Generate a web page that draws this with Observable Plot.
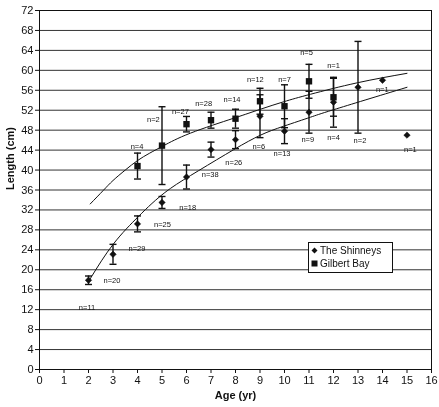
<!DOCTYPE html>
<html>
<head>
<meta charset="utf-8">
<script src="https://cdn.jsdelivr.net/npm/d3@7"></script>
<script src="https://cdn.jsdelivr.net/npm/@observablehq/plot@0.6"></script>
<style>
  html, body { margin: 0; padding: 0; background: #fff; }
  #wrap { position: relative; width: 439px; height: 407px; font-family: "Liberation Sans", Arial, sans-serif; }
  #chart svg { will-change: transform; }
  #legend { position: absolute; left: 308px; top: 242px; width: 83px; height: 28px; border: 1px solid #111; background: #fff; font-size: 10px; color: #111; line-height: 13px; padding-top: 1px; box-sizing: content-box; will-change: transform; }
  #legend div { display: flex; align-items: center; padding-left: 2px; white-space: nowrap; }
  #legend svg { margin-right: 2px; }
</style>
</head>
<body>
<div id="wrap">
  <div id="chart"></div>
  <div id="legend">
    <div><svg width="7" height="7" viewBox="-3.5 -3.5 7 7"><path d="M0,-3L3,0L0,3L-3,0Z" fill="#111"/></svg>The Shinneys</div>
    <div><svg width="7" height="7" viewBox="-3.5 -3.5 7 7"><rect x="-3" y="-3" width="6" height="6" fill="#111"/></svg>Gilbert Bay</div>
  </div>
</div>
<script>
// ---- data ----
const xTicks = [0,1,2,3,4,5,6,7,8,9,10,11,12,13,14,15,16];
const yTicks = [0,4,8,12,16,20,24,28,32,36,40,44,48,52,56,60,64,68,72];

const shinAge  = [2,3,4,5,6,7,8,9,10,11,12,13,14,15];
const shinLen  = [17.9,23.1,29.2,33.5,38.6,44.1,46.1,50.8,47.8,51.6,53.6,56.6,58.0,47.0];
const shinErr  = [0.85,2.0,1.6,1.2,2.4,1.5,1.8,4.3,2.5,4.2,5.0,9.2,null,null];

const gilbAge  = [4,5,6,7,8,9,10,11,12];
const gilbLen  = [40.8,44.9,49.2,50.0,50.3,53.8,52.8,57.8,54.6];
const gilbErr  = [2.6,7.8,1.55,1.6,1.9,2.6,4.3,3.4,3.8];

// fitted growth curves
const gilbCurveAge = [2.07,2.6,3.0,3.5,4.0,4.5,5.07,6.16,7.93,9.02,9.97,11.06,12.97,15.0];
const gilbCurveLen = [33.2,35.9,37.9,40.0,41.9,43.4,44.9,47.4,50.4,52.2,53.7,55.2,57.5,59.4];
const shinCurveAge = [2.07,3.02,4.0,4.59,5.34,6.5,7.93,9.02,9.97,11.06,12.0,15.0];
const shinCurveLen = [18.2,25.2,30.5,33.3,36.3,39.9,44.1,47.0,48.8,50.6,52.1,56.6];

// sample-size labels and where they sit (age, length)
const nText = ["n=4","n=2","n=27","n=28","n=14","n=12","n=7","n=5","n=1",
               "n=11","n=20","n=29","n=25","n=18","n=38","n=26","n=6","n=13","n=9","n=4","n=2","n=1","n=1"];
const nAge  = [3.98,4.65,5.75,6.7,7.86,8.81,10.0,10.9,12.0,
               1.94,2.96,3.98,5.02,6.05,6.97,7.93,8.95,9.9,10.95,12.0,13.08,13.99,15.14];
const nLen  = [44.8,50.2,51.8,53.4,54.2,58.2,58.2,63.5,61.0,
               12.4,17.8,24.2,29.1,32.5,39.1,41.4,44.8,43.4,46.1,46.6,46.0,56.1,44.2];

// ---- tables ----
const shin = shinAge.map((a,i)=>({age:a, len:shinLen[i], err:shinErr[i]}));
const gilb = gilbAge.map((a,i)=>({age:a, len:gilbLen[i], err:gilbErr[i]}));
const bars = [...shin, ...gilb].filter(d=>d.err != null);
const caps = bars.flatMap(d=>[{age:d.age, v:d.len-d.err},{age:d.age, v:d.len+d.err}]);
const gCurve = gilbCurveAge.map((a,i)=>({age:a, len:gilbCurveLen[i]}));
const sCurve = shinCurveAge.map((a,i)=>({age:a, len:shinCurveLen[i]}));
const labels = nText.map((t,i)=>({t, age:nAge[i], len:nLen[i]}));

const capSymbol = {
  draw(ctx, size) { const r = Math.sqrt(size/Math.PI); ctx.moveTo(-r,0); ctx.lineTo(r,0); }
};

const ink = "#111";

const chart = Plot.plot({
  width: 439, height: 407,
  marginLeft: 39, marginRight: 8, marginTop: 10, marginBottom: 38,
  style: {fontFamily: '"Liberation Sans", Arial, sans-serif', fontSize: "11px", color: ink, background: "#fff"},
  x: {domain: [0,16]},
  y: {domain: [0,72]},
  marks: [
    Plot.ruleY(yTicks.filter(v=>v>0 && v<72), {y: d=>d, stroke: "#333", strokeWidth: 1}),
    Plot.frame({stroke: ink, strokeWidth: 1}),
    Plot.axisX({ticks: xTicks, tickSize: 4, tickPadding: 3, label: null, fontSize: 11, stroke: ink}),
    Plot.axisY({ticks: yTicks, tickSize: 4, tickPadding: 2, label: null, fontSize: 11, stroke: ink}),
    Plot.line(gCurve, {x:"age", y:"len", curve:"natural", stroke: ink, strokeWidth: 1}),
    Plot.line(sCurve, {x:"age", y:"len", curve:"natural", stroke: ink, strokeWidth: 1}),
    Plot.ruleX(bars, {x:"age", y1: d=>d.len-d.err, y2: d=>d.len+d.err, stroke: ink, strokeWidth: 1.4}),
    Plot.dot(caps, {x:"age", y:"v", symbol: capSymbol, r: 3.5, stroke: ink, strokeWidth: 1.4, fill: "none"}),
    Plot.dot(shin, {x:"age", y:"len", symbol:"diamond2", r: 2.9, fill: ink, stroke: ink, strokeWidth: 0.5}),
    Plot.dot(gilb, {x:"age", y:"len", symbol:"square", r: 3.6, fill: ink, stroke: "none"}),
    Plot.text(labels, {x:"age", y:"len", text:"t", fontSize: 7.5, fill: ink}),
    Plot.text(["Age (yr)"], {frameAnchor:"bottom", dy: 29, fontWeight:"bold", fontSize: 11, fill: ink}),
    Plot.text(["Length (cm)"], {frameAnchor:"left", rotate: -90, dx: -29, fontWeight:"bold", fontSize: 11, fill: ink})
  ]
});
document.getElementById("chart").appendChild(chart);
</script>
</body>
</html>
